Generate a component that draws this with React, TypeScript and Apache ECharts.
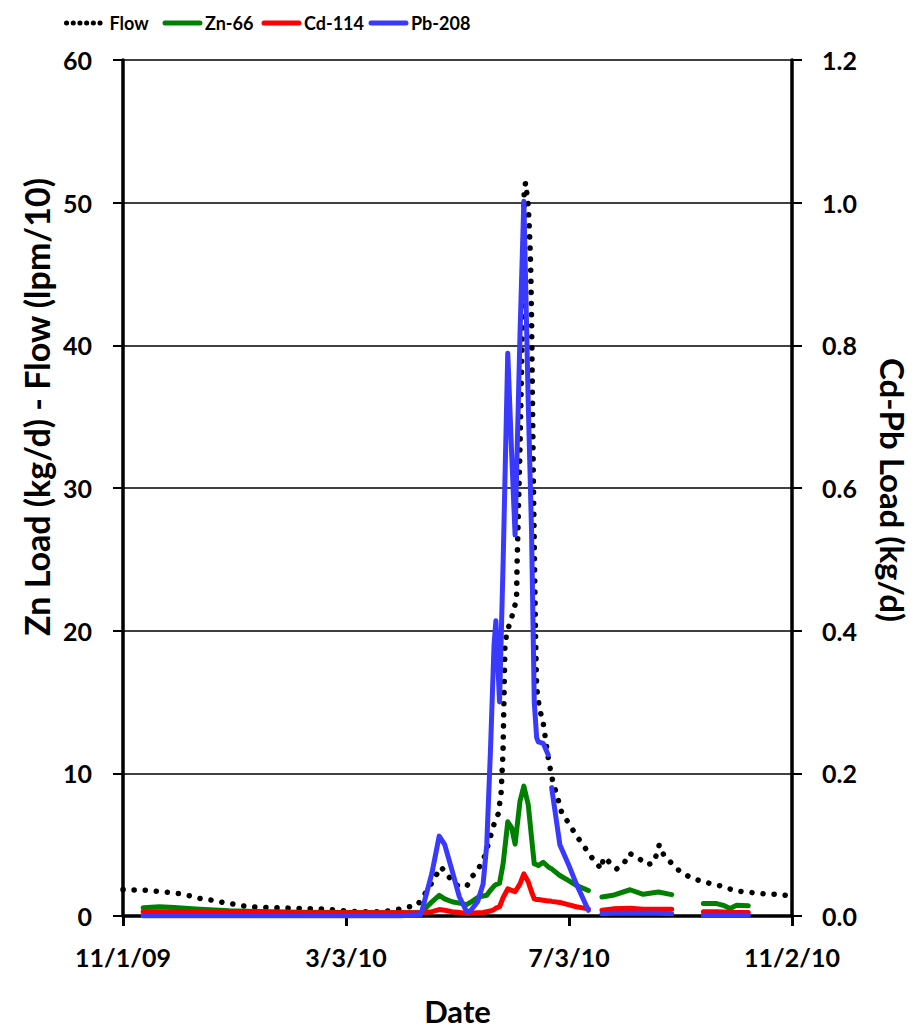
import React, { useEffect, useRef } from "react";
import * as echarts from "echarts";

// x values are days since 11/1/09
const xTickLabels = ["11/1/09", "3/3/10", "7/3/10", "11/2/10"];

const flowDays = [0, 6, 13, 19, 25, 31, 37, 43, 49, 55, 62, 68, 80, 99, 112, 118, 131, 137, 143, 150, 156, 161, 167, 174, 178, 183, 188, 191, 194, 198, 203.5, 205.2, 206.8, 207.9, 208.4, 209, 210.6, 212.8, 215.3, 215.6, 217.2, 218.8, 219.5, 220.3, 221.7, 222.3, 223, 223.5, 224, 224.5, 225.1, 225.7, 226.3, 227.9, 229.8, 232.5, 233.6, 235.1, 237.3, 240, 243.6, 247.3, 251, 254.6, 258.2, 261.9, 262.8, 265.5, 270.1, 274.1, 277, 281.9, 286.5, 290.1, 292, 293.4, 296, 300.5, 304.7, 310.2, 316, 322, 328.1, 334.2, 340.3, 346.7, 353, 359.4, 366];
const flowValues = [1.85, 1.82, 1.8, 1.72, 1.65, 1.56, 1.4, 1.2, 1.1, 0.94, 0.8, 0.66, 0.59, 0.52, 0.48, 0.38, 0.29, 0.3, 0.31, 0.45, 0.63, 0.75, 1.91, 3.44, 2.77, 2.14, 2.07, 2.77, 3.18, 4.23, 6.66, 7.13, 8.5, 11.5, 15.0, 19.2, 20.1, 21.0, 22.2, 24.7, 32.9, 43.3, 51.0, 51.4, 49.8, 48.2, 45.7, 41.9, 36.3, 30.6, 25.2, 19.6, 16.0, 14.5, 13.6, 11.2, 10.4, 9.44, 8.52, 7.24, 6.55, 5.78, 5.09, 4.46, 3.77, 3.3, 4.1, 3.84, 3.3, 3.7, 4.4, 4.07, 3.6, 3.7, 4.35, 5.0, 4.23, 3.65, 3.12, 2.72, 2.45, 2.26, 2.07, 1.8, 1.68, 1.61, 1.52, 1.52, 1.38];

const metalDays = [11, 20, 28, 42, 58, 75, 97, 124, 152, 163, 169, 173, 176, 180, 184, 188, 190, 194, 197, 199, 201, 203, 204, 206, 208, 210.5, 212.6, 214.5, 217.2, 219.3, 221.7, 223.5, 225, 226.3, 227.2, 229.9, 232.6, 233.5, 234.5, 239, 243.6, 248, 254.6, 258, 262, 268, 277.4, 284.6, 292.9, 300.2, 309, 317.5, 324.8, 328.4, 332.1, 335.7, 342.1];
const znValues = [0.57, 0.64, 0.59, 0.47, 0.36, 0.31, 0.26, 0.24, 0.22, 0.25, 0.99, 1.45, 1.2, 1.0, 0.9, 0.8, 0.95, 1.3, 1.4, 1.45, 1.8, 2.1, 2.2, 2.3, 3.7, 6.6, 6.2, 5.04, 8.05, 9.1, 7.8, 5.5, 3.65, 3.6, 3.53, 3.77, 3.45, 3.38, 3.3, 2.84, 2.5, 2.15, 1.79, null, 1.33, 1.45, 1.84, 1.52, 1.68, 1.5, null, 0.87, 0.87, 0.75, 0.52, 0.75, 0.71];
const cdValues = [0.006, 0.006, 0.006, 0.0055, 0.005, 0.005, 0.0045, 0.0045, 0.0045, 0.0045, 0.006, 0.009, 0.008, 0.006, 0.005, 0.0035, 0.004, 0.0045, 0.005, 0.006, 0.007, 0.009, 0.011, 0.013, 0.026, 0.038, 0.036, 0.034, 0.045, 0.059, 0.048, 0.034, 0.024, 0.023, 0.023, 0.022, 0.021, 0.021, 0.0205, 0.019, 0.016, 0.013, 0.01, null, 0.008, 0.01, 0.011, 0.0095, 0.0095, 0.0095, null, 0.006, 0.006, 0.0055, 0.005, 0.005, 0.005];
const pbValues = [0.0005, 0.0005, 0.0005, 0.0005, 0.0005, 0.0005, 0.0005, 0.0005, 0.0005, 0.002, 0.06, 0.112, 0.1, 0.064, 0.027, 0.006, 0.007, 0.02, 0.045, 0.1, 0.23, 0.38, 0.414, 0.3, 0.5, 0.789, 0.65, 0.534, 0.816, 1.002, 0.72, 0.54, 0.3, 0.25, 0.244, 0.242, 0.226, null, 0.18, 0.1, 0.073, 0.045, 0.008, null, 0.003, 0.004, 0.004, 0.004, 0.004, 0.003, null, 0.001, 0.001, 0.001, 0.001, 0.001, 0.001];

const FONT = "Lato, 'Open Sans', sans-serif";

export default function App() {
  const ref = useRef<HTMLDivElement>(null);
  useEffect(() => {
    document.body.style.margin = "0";
    const chart = echarts.init(ref.current!, null, { renderer: "svg" });
    const pair = (days: number[], vals: (number | null)[]) => days.map((d, i) => [d, vals[i]]);
    const legendText = { fontFamily: FONT, fontWeight: "bold" as const, fontSize: 18, color: "#000" };
    const mkLegend = (name: string, left: number, extra: any = {}) => ({
      data: [name],
      left,
      top: 14,
      itemWidth: 35,
      itemHeight: 18,
      selectedMode: false,
      padding: 0,
      textStyle: legendText,
      itemStyle: { opacity: 0 },
      lineStyle: { width: 5, cap: "round" },
      ...extra,
    });
    const option: any = {
      animation: false,
      backgroundColor: "#fff",
      grid: { left: 123, right: 131, top: 60, height: 862.5 },
      legend: [
        mkLegend("Flow", 64, { lineStyle: { type: [0.1, 6.6], width: 5, cap: "round" }, textStyle: { ...legendText, padding: [0, 0, 0, 3] } }),
        mkLegend("Zn-66", 162.5),
        mkLegend("Cd-114", 261.5),
        mkLegend("Pb-208", 368.5),
      ],
      xAxis: {
        type: "value",
        min: 0,
        max: 366,
        interval: 122,
        name: "Date",
        nameLocation: "middle",
        nameGap: 79,
        nameTextStyle: { fontFamily: FONT, fontWeight: "bold", fontSize: 31, color: "#000" },
        axisLine: { show: true, lineStyle: { color: "#000", width: 3.5 } },
        axisTick: { show: true, length: 10, lineStyle: { color: "#000", width: 3 } },
        axisLabel: {
          margin: 28,
          fontFamily: FONT,
          fontWeight: "bold",
          fontSize: 25,
          color: "#000",
          formatter: (v: number) => xTickLabels[Math.round(v / 122)] ?? "",
        },
        splitLine: { show: false },
      },
      yAxis: [
        {
          type: "value",
          min: 0,
          max: 60,
          interval: 10,
          position: "left",
          axisLine: { show: true, lineStyle: { color: "#000", width: 3.5 } },
          axisTick: { show: true, length: 10, lineStyle: { color: "#000", width: 2 } },
          axisLabel: { margin: 31, fontFamily: FONT, fontWeight: "bold", fontSize: 25, color: "#000" },
          splitLine: { show: true, lineStyle: { color: "#000", width: 1.5 } },
        },
        {
          type: "value",
          min: 0,
          max: 1.2,
          interval: 0.2,
          position: "right",
          axisLine: { show: true, lineStyle: { color: "#000", width: 3.5 } },
          axisTick: { show: true, length: 10, lineStyle: { color: "#000", width: 2 } },
          axisLabel: {
            margin: 30,
            fontFamily: FONT,
            fontWeight: "bold",
            fontSize: 25,
            color: "#000",
            formatter: (v: number) => v.toFixed(1),
          },
          splitLine: { show: false },
        },
      ],
      graphic: [
        {
          type: "text",
          x: 36,
          y: 407,
          rotation: Math.PI / 2,
          style: {
            text: "Zn Load (kg/d) - Flow (lpm/10)",
            font: `bold 34px ${FONT}`,
            fill: "#000",
            align: "center",
            verticalAlign: "middle",
          },
        },
        {
          type: "text",
          x: 893,
          y: 490,
          rotation: -Math.PI / 2,
          style: {
            text: "Cd-Pb Load (kg/d)",
            font: `bold 33px ${FONT}`,
            fill: "#000",
            align: "center",
            verticalAlign: "middle",
          },
        },
      ],
      series: [
        {
          name: "Flow",
          type: "line",
          yAxisIndex: 0,
          symbol: "none",
          clip: false,
          data: pair(flowDays, flowValues),
          lineStyle: { color: "#000", width: 5.5, type: [0.1, 11], cap: "round", join: "round" },
          itemStyle: { color: "#000" },
        },
        {
          name: "Zn-66",
          type: "line",
          yAxisIndex: 0,
          symbol: "none",
          clip: false,
          data: pair(metalDays, znValues),
          lineStyle: { color: "#008000", width: 5, cap: "round", join: "round" },
          itemStyle: { color: "#008000" },
        },
        {
          name: "Cd-114",
          type: "line",
          yAxisIndex: 1,
          symbol: "none",
          clip: false,
          data: pair(metalDays, cdValues),
          lineStyle: { color: "#ff0000", width: 5, cap: "round", join: "round" },
          itemStyle: { color: "#ff0000" },
        },
        {
          name: "Pb-208",
          type: "line",
          yAxisIndex: 1,
          symbol: "none",
          clip: false,
          data: pair(metalDays, pbValues),
          lineStyle: { color: "#3a3aff", width: 5, cap: "round", join: "round" },
          itemStyle: { color: "#3a3aff" },
        },
      ],
    };
    chart.setOption(option);
    return () => chart.dispose();
  }, []);
  return <div ref={ref} style={{ width: 923, height: 1031 }} />;
}
